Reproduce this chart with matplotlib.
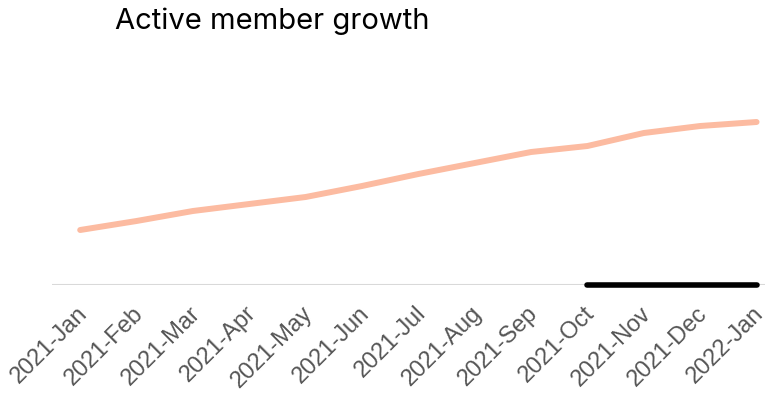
import matplotlib.pyplot as plt
import matplotlib.transforms as mtransforms
import numpy as np

months = ['2021-Jan', '2021-Feb', '2021-Mar', '2021-Apr', '2021-May', '2021-Jun',
          '2021-Jul', '2021-Aug', '2021-Sep', '2021-Oct', '2021-Nov', '2021-Dec',
          '2022-Jan']
members = [55, 64, 74, 81, 88, 99, 111, 122, 133, 139, 152, 159, 163]
highlight = ['2021-Oct', '2022-Jan']

x = np.arange(len(months))

fig = plt.figure(figsize=(7.82, 4.05), dpi=100)
ax = fig.add_axes([52/782, 1 - 285/405, (765 - 52)/782, (285 - 35)/405])

ax.plot(x, members, color='#fcbba1', linewidth=4.3, solid_capstyle='round',
        solid_joinstyle='round')

ax.axhline(0, color='#d9d9d9', linewidth=1.5, zorder=1)
hx = [months.index(highlight[0]), months.index(highlight[1])]
ax.plot(hx, [0, 0], color='black', linewidth=4, solid_capstyle='round',
        clip_on=False, zorder=3)

ax.set_xlim(-0.5, len(months) - 0.85)
ax.set_ylim(0, 250)
ax.set_xticks(x)
ax.set_xticklabels(months, rotation=45, ha='right', rotation_mode='anchor',
                   fontsize=17, color='#555555', family='Liberation Sans')
ax.tick_params(axis='x', length=0, pad=11)
offset = mtransforms.ScaledTranslation(-4/100, -2/100, fig.dpi_scale_trans)
for lab in ax.get_xticklabels():
    lab.set_transform(lab.get_transform() + offset)
ax.set_yticks([])
for s in ax.spines.values():
    s.set_visible(False)

fig.text(115/782, 1 - 21/405, 'Active member growth', fontsize=21,
         family='Inter', va='center', ha='left', color='black')

fig.savefig('out.png', dpi=100)
